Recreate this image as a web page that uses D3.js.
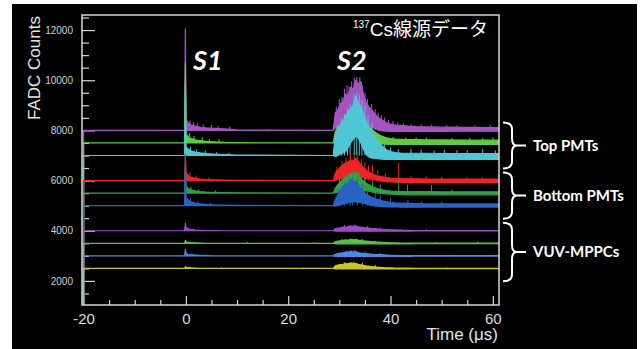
<!DOCTYPE html>
<html>
<head>
<meta charset="utf-8">
<script src="https://cdn.jsdelivr.net/npm/d3@7"></script>
<style>
  body { margin: 0; background: #fff; }
  svg { display: block; }
</style>
</head>
<body>
<svg></svg>
<script>
// time bins (µs), shared by every channel
const times = [-20, -0.25, -0.1, 0.05, 0.5, 1, 1.8, 2.8, 4, 5.5, 7.5, 10, 28.8,
  29.2, 29.7, 30.2, 30.7, 31.2, 31.7, 32.2, 32.7, 33.2, 33.7, 34.2, 34.7, 35.2, 35.7,
  36.2, 36.7, 37.2, 37.8, 38.4, 39.2, 40, 41, 42, 43.5, 45, 47, 50, 55, 61.2];

// channel baselines (FADC counts, offset for display)
const baselines = [8000, 7500, 7000, 6000, 5500, 5000, 4000, 3500, 3000, 2500];

// upper / lower envelope of each waveform
const topPurpleHi = [8000, 8000, 12050, 8420, 8300, 8220, 8170, 8130, 8100, 8080, 8060, 8020, 8000,
  8700, 8820, 9060, 9180, 9450, 9400, 9720, 9650, 10000, 9850, 9950, 9450, 9150, 8950, 8850,
  8720, 8600, 8480, 8400, 8300, 8250, 8210, 8200, 8170, 8150, 8140, 8130, 8120, 8110];
const topPurpleLo = [8000, 8000, 8000, 8000, 8000, 8000, 8000, 8000, 8000, 8000, 8000, 8000, 8000,
  8100, 8150, 8200, 8250, 8300, 8350, 8400, 8400, 8400, 8380, 8350, 8300, 8250, 8200, 8150,
  8100, 8050, 8000, 7980, 7970, 7960, 7960, 7960, 7960, 7960, 7960, 7960, 7970, 7970];

const topGreenHi = [7500, 7500, 10700, 7850, 7740, 7680, 7620, 7590, 7560, 7540, 7520, 7510, 7500,
  7950, 8100, 8250, 8350, 8480, 8560, 8750, 8800, 8900, 8850, 8750, 8550, 8350, 8200, 8080,
  7980, 7900, 7820, 7760, 7700, 7670, 7650, 7640, 7630, 7630, 7620, 7620, 7610, 7610];
const topGreenLo = [7500, 7500, 7500, 7500, 7500, 7500, 7500, 7500, 7500, 7500, 7500, 7500, 7500,
  7550, 7600, 7650, 7700, 7750, 7800, 7850, 7850, 7850, 7800, 7750, 7700, 7650, 7600, 7560,
  7520, 7500, 7480, 7460, 7450, 7440, 7440, 7440, 7440, 7440, 7440, 7440, 7440, 7440];

const topCyanHi = [7000, 7000, 9830, 7330, 7250, 7190, 7140, 7110, 7080, 7060, 7040, 7020, 7000,
  7800, 8050, 8230, 8380, 8520, 8760, 8850, 9000, 9350, 9100, 8950, 8650, 8400, 8150, 7950,
  7800, 7640, 7500, 7380, 7230, 7160, 7120, 7100, 7090, 7090, 7090, 7080, 7080, 7080];
const topCyanLo = [7000, 7000, 7000, 7000, 7000, 7000, 7000, 7000, 7000, 7000, 7000, 7000, 7000,
  6950, 7000, 7050, 7100, 7150, 7300, 7500, 7650, 7760, 7700, 7500, 7250, 7050, 6950, 6900,
  6880, 6870, 6860, 6850, 6840, 6840, 6840, 6840, 6840, 6840, 6840, 6840, 6840, 6840];

const botRedHi = [6000, 6000, 7000, 6320, 6200, 6130, 6090, 6060, 6040, 6030, 6020, 6010, 6000,
  6280, 6420, 6540, 6620, 6700, 6750, 6820, 6780, 6880, 6760, 6640, 6520, 6420, 6340, 6290,
  6240, 6200, 6170, 6150, 6120, 6100, 6090, 6080, 6070, 6070, 6060, 6060, 6060, 6060];
const botRedLo = [6000, 6000, 6000, 6000, 6000, 6000, 6000, 6000, 6000, 6000, 6000, 6000, 6000,
  6020, 6050, 6080, 6100, 6120, 6150, 6170, 6180, 6180, 6170, 6150, 6120, 6100, 6080, 6060,
  6040, 6020, 6000, 5980, 5960, 5950, 5940, 5930, 5920, 5920, 5920, 5920, 5920, 5920];

const botGreenHi = [5500, 5500, 6500, 5780, 5680, 5630, 5590, 5560, 5540, 5530, 5520, 5510, 5500,
  5700, 5830, 5960, 6060, 6140, 6190, 6270, 6250, 6320, 6230, 6100, 5980, 5900, 5840, 5780,
  5740, 5700, 5660, 5630, 5600, 5580, 5570, 5560, 5560, 5560, 5560, 5550, 5550, 5550];
const botGreenLo = [5500, 5500, 5500, 5500, 5500, 5500, 5500, 5500, 5500, 5500, 5500, 5500, 5500,
  5520, 5550, 5580, 5600, 5620, 5640, 5660, 5670, 5670, 5660, 5640, 5620, 5600, 5580, 5560,
  5540, 5520, 5500, 5480, 5470, 5460, 5450, 5440, 5430, 5430, 5430, 5430, 5430, 5430];

const botBlueHi = [5000, 5000, 7050, 5330, 5220, 5150, 5100, 5070, 5050, 5030, 5020, 5010, 5000,
  5250, 5430, 5630, 5760, 5830, 5900, 6030, 5940, 5980, 5830, 5700, 5560, 5470, 5400, 5350,
  5300, 5260, 5230, 5190, 5160, 5130, 5110, 5100, 5090, 5080, 5070, 5070, 5070, 5070];
const botBlueLo = [5000, 5000, 5000, 5000, 5000, 5000, 5000, 5000, 5000, 5000, 5000, 5000, 5000,
  4980, 5000, 5030, 5060, 5090, 5110, 5130, 5150, 5150, 5140, 5120, 5100, 5070, 5040, 5020,
  5000, 4980, 4970, 4960, 4950, 4950, 4950, 4940, 4940, 4940, 4940, 4940, 4940, 4940];

const vuvPurpleHi = [4000, 4000, 4310, 4120, 4080, 4050, 4030, 4020, 4010, 4010, 4000, 4000, 4000,
  4080, 4110, 4120, 4150, 4140, 4170, 4200, 4180, 4200, 4160, 4150, 4130, 4120, 4110, 4100,
  4090, 4080, 4070, 4060, 4050, 4040, 4040, 4030, 4020, 4010, 4010, 4010, 4010, 4010];
const vuvPurpleLo = [4000, 4000, 4000, 4000, 4000, 4000, 4000, 4000, 4000, 4000, 4000, 4000, 4000,
  3980, 3980, 3980, 3980, 3980, 3980, 3980, 3980, 3980, 3980, 3980, 3980, 3980, 3980, 3980,
  3980, 3980, 3980, 3980, 3980, 3980, 3980, 3980, 3980, 3990, 3990, 3990, 3990, 3990];

const vuvGreenHi = [3500, 3500, 3620, 3560, 3540, 3530, 3520, 3510, 3500, 3500, 3500, 3500, 3500,
  3560, 3590, 3600, 3620, 3640, 3620, 3660, 3640, 3650, 3630, 3620, 3600, 3590, 3580, 3570,
  3560, 3550, 3550, 3540, 3530, 3520, 3520, 3510, 3510, 3510, 3510, 3510, 3510, 3510];
const vuvGreenLo = [3500, 3500, 3500, 3500, 3500, 3500, 3500, 3500, 3500, 3500, 3500, 3500, 3500,
  3480, 3480, 3480, 3480, 3480, 3480, 3480, 3480, 3480, 3480, 3480, 3480, 3480, 3480, 3480,
  3480, 3480, 3480, 3480, 3480, 3480, 3480, 3480, 3480, 3490, 3490, 3490, 3490, 3490];

const vuvBlueHi = [3000, 3000, 3260, 3080, 3050, 3040, 3030, 3020, 3010, 3000, 3000, 3000, 3000,
  3060, 3090, 3110, 3120, 3150, 3130, 3190, 3150, 3170, 3130, 3110, 3100, 3090, 3080, 3070,
  3060, 3050, 3050, 3040, 3030, 3020, 3020, 3010, 3010, 3010, 3010, 3010, 3010, 3010];
const vuvBlueLo = [3000, 3000, 3000, 3000, 3000, 3000, 3000, 3000, 3000, 3000, 3000, 3000, 3000,
  2980, 2980, 2980, 2980, 2980, 2980, 2980, 2980, 2980, 2980, 2980, 2980, 2980, 2980, 2980,
  2980, 2980, 2980, 2980, 2980, 2980, 2980, 2980, 2980, 2990, 2990, 2990, 2990, 2990];

const vuvYellowHi = [2500, 2500, 2570, 2540, 2530, 2520, 2510, 2500, 2500, 2500, 2500, 2500, 2500,
  2600, 2630, 2650, 2660, 2690, 2680, 2720, 2690, 2700, 2660, 2640, 2620, 2600, 2590, 2570,
  2560, 2550, 2540, 2530, 2520, 2520, 2510, 2510, 2510, 2500, 2500, 2500, 2500, 2500];
const vuvYellowLo = [2500, 2500, 2500, 2500, 2500, 2500, 2500, 2500, 2500, 2500, 2500, 2500, 2500,
  2480, 2480, 2480, 2480, 2480, 2480, 2480, 2480, 2480, 2480, 2480, 2480, 2480, 2480, 2480,
  2480, 2480, 2480, 2480, 2480, 2480, 2480, 2480, 2480, 2490, 2490, 2490, 2490, 2490];

// single-bin spikes on top of the envelopes [time, counts]
const topPurpleSpikes = [[0.8, 8400], [1.5, 8330], [2.2, 8300], [3.4, 8240], [5, 8220], [6.3, 8180], [8.6, 8160], [16, 8050],
  [29.4, 8950], [30.0, 9250], [30.5, 9350], [31.0, 9650], [31.5, 9800], [31.9, 9750], [32.4, 9950], [32.9, 10100],
  [33.4, 10130], [34.0, 10120], [34.5, 9800], [35.0, 9500], [35.5, 9250], [36.3, 9050], [37.0, 8850], [37.6, 8700],
  [38.2, 8600], [38.8, 8520], [39.6, 8420], [40.5, 8380], [41.4, 8330], [42.5, 8290], [44, 8260], [46, 8240],
  [48, 8230], [51, 8210], [53, 8200], [56.5, 8200], [59.5, 8220]];
const topGreenSpikes = [[0.7, 7880], [1.6, 7780], [3.2, 7730], [4.6, 7660], [6.5, 7640],
  [40.5, 7740], [43, 7720], [45, 7710], [47, 7710], [52, 7690], [55.5, 7700], [58, 7690], [60, 7720]];
const topCyanSpikes = [[0.9, 7340], [2.1, 7250], [3.8, 7200], [6, 7130], [8.4, 7100],
  [29.6, 8200], [30.4, 8450], [31.0, 8650], [31.6, 8900], [32.1, 9050], [32.9, 9450], [33.4, 9500], [33.9, 9430],
  [34.4, 9200], [35.0, 9000], [35.6, 8600], [36.4, 8300], [37.1, 7900], [37.9, 7700], [38.8, 7450], [40, 7320],
  [41.5, 7260], [44, 7260], [46, 7230], [48.5, 7200], [50.5, 7230], [53, 7220], [55, 7200], [58, 7260], [60.5, 7200]];
const botRedSpikes = [[0.8, 6330], [2, 6200], [4.5, 6120],
  [29.5, 6550], [30.5, 6780], [31.3, 6900], [32.2, 7050], [33.0, 6980], [33.5, 7000], [34.3, 6850], [35.0, 6750],
  [35.7, 6600], [36.5, 6600], [37.5, 6400], [39, 6300], [41.6, 6720], [44, 6180], [47, 6160], [50, 6150], [55, 6130], [58, 6140]];
const botGreenSpikes = [[1, 5760], [2.5, 5650], [5.8, 5600],
  [30, 6100], [31.3, 6300], [32.5, 6400], [33.8, 6350], [35, 6150], [36.5, 6000], [38, 5850], [41.6, 6030],
  [43.3, 5840], [48, 5830], [52, 5650]];
const botBlueSpikes = [[0.9, 5300], [2.4, 5180], [4.8, 5110],
  [29.8, 5650], [31, 5900], [32.1, 6100], [32.6, 6150], [33.5, 6050], [34.5, 5850], [35.5, 5650], [37, 5500],
  [38, 5420], [40, 5300], [43.4, 5230], [46, 5180], [50, 5160]];
const vuvPurpleSpikes = [[1.5, 4090], [31, 4230], [33, 4240], [35.5, 4190], [38, 4130], [42, 4070], [47, 4060]];
const vuvGreenSpikes = [[12, 3550], [25, 3540], [30.5, 3670], [32.5, 3690], [34.5, 3670], [37, 3600], [49, 3550], [57, 3560]];
const vuvBlueSpikes = [[1.2, 3090], [4, 3060], [31.5, 3210], [33, 3230], [35, 3170], [38, 3110], [53, 3040]];
const vuvYellowSpikes = [[7, 2540], [23, 2530], [31, 2740], [32.8, 2760], [34.5, 2720], [37, 2640], [51, 2530]];

const colors = ['#a653c2', '#5fcc3f', '#4fc6d4', '#ee2424', '#30a046', '#2a62c2',
  '#9a4cc4', '#5cc243', '#4a8ae0', '#c9c624'];

const groupLabels = ['Top PMTs', 'Bottom PMTs', 'VUV-MPPCs'];
const groupMembers = [[0, 1, 2], [3, 4, 5], [6, 7, 8, 9]];

const yMajorTicks = [2000, 4000, 6000, 8000, 10000, 12000];
const yMinorTicks = [1500, 2500, 3000, 3500, 4500, 5000, 5500, 6500, 7000, 7500, 8500, 9000, 9500, 10500, 11000, 11500, 12500];
const xMajorTicks = [-20, 0, 20, 40, 60];
const xMinorTicks = [-15, -10, -5, 5, 10, 15, 25, 30, 35, 45, 50, 55];

const series = [
  {hi: topPurpleHi, lo: topPurpleLo, spikes: topPurpleSpikes},
  {hi: topGreenHi, lo: topGreenLo, spikes: topGreenSpikes},
  {hi: topCyanHi, lo: topCyanLo, spikes: topCyanSpikes},
  {hi: botRedHi, lo: botRedLo, spikes: botRedSpikes},
  {hi: botGreenHi, lo: botGreenLo, spikes: botGreenSpikes},
  {hi: botBlueHi, lo: botBlueLo, spikes: botBlueSpikes},
  {hi: vuvPurpleHi, lo: vuvPurpleLo, spikes: vuvPurpleSpikes},
  {hi: vuvGreenHi, lo: vuvGreenLo, spikes: vuvGreenSpikes},
  {hi: vuvBlueHi, lo: vuvBlueLo, spikes: vuvBlueSpikes},
  {hi: vuvYellowHi, lo: vuvYellowLo, spikes: vuvYellowSpikes}
];
series.forEach((s, i) => { s.base = baselines[i]; s.color = colors[i]; });

const size = {w: 641, h: 349};
const plot = {l: 82, t: 15, r: 499, b: 305};
const svg = d3.select('svg').attr('width', size.w).attr('height', size.h);

// black slide background
svg.append('rect')
  .attr('x', 12).attr('y', 4)
  .attr('width', 625).attr('height', 345)
  .attr('fill', '#000');

const x = d3.scaleLinear().domain([-20.3, 61.2]).range([plot.l, plot.r]);
const y = d3.scaleLinear().domain([1040, 12600]).range([plot.b, plot.t]);

svg.append('clipPath').attr('id', 'clip')
  .append('rect')
  .attr('x', plot.l).attr('y', plot.t)
  .attr('width', plot.r - plot.l).attr('height', plot.b - plot.t);

//Axes (ticks point inward like ROOT)
const axisColor = '#d6d6d6';
const yMajor = svg.append('g').attr('transform', `translate(${plot.l},0)`)
  .call(d3.axisLeft(y).tickValues(yMajorTicks).tickSize(-13).tickPadding(9).tickFormat(d => String(d)));
const yMinor = svg.append('g').attr('transform', `translate(${plot.l},0)`)
  .call(d3.axisLeft(y).tickValues(yMinorTicks).tickSize(-7).tickFormat(''));
const xMajor = svg.append('g').attr('transform', `translate(0,${plot.b})`)
  .call(d3.axisBottom(x).tickValues(xMajorTicks).tickSize(-9).tickPadding(8).tickFormat(d => String(d)));
const xMinor = svg.append('g').attr('transform', `translate(0,${plot.b})`)
  .call(d3.axisBottom(x).tickValues(xMinorTicks).tickSize(-5).tickFormat(''));

[yMajor, yMinor, xMajor, xMinor].forEach(g => {
  g.select('.domain').remove();
  g.selectAll('line').attr('stroke', axisColor).attr('stroke-width', 1.2);
});
yMajor.selectAll('text')
  .attr('fill', '#d0d0d0')
  .style('font', '10px "Liberation Sans", Arial, sans-serif');
xMajor.selectAll('text')
  .attr('fill', '#dcdcdc')
  .style('font', '15px "Liberation Sans", Arial, sans-serif');

//Waveforms
const traces = svg.append('g').attr('clip-path', 'url(#clip)');
const area = d3.area()
  .x(d => x(d.t))
  .y0(d => y(d.lo))
  .y1(d => y(d.hi));

series.forEach(s => {
  const rows = times.map((t, i) => ({t: t, hi: s.hi[i], lo: s.lo[i]}));
  const g = traces.append('g');

  // histogram starts from the bottom of the frame
  g.append('line')
    .attr('x1', x(times[0])).attr('x2', x(times[0]))
    .attr('y1', y(y.domain()[0])).attr('y2', y(s.base))
    .attr('stroke', s.color).attr('stroke-width', 1.3);

  g.append('path')
    .datum(rows)
    .attr('d', area)
    .attr('fill', s.color)
    .attr('stroke', s.color)
    .attr('stroke-width', 1.2)
    .attr('stroke-linejoin', 'round');

  g.selectAll('.spike')
    .data(s.spikes)
    .enter()
    .append('line')
    .attr('x1', d => x(d[0])).attr('x2', d => x(d[0]))
    .attr('y1', y(s.base)).attr('y2', d => y(d[1]))
    .attr('stroke', s.color).attr('stroke-width', 1);
});

// frame
svg.append('rect')
  .attr('x', plot.l).attr('y', plot.t)
  .attr('width', plot.r - plot.l).attr('height', plot.b - plot.t)
  .attr('fill', 'none')
  .attr('stroke', axisColor)
  .attr('stroke-width', 1.5);

//Axis titles
svg.append('text')
  .attr('transform', 'translate(40,68) rotate(-90)')
  .attr('text-anchor', 'middle')
  .attr('fill', '#e4e4e4')
  .style('font', '17px "Liberation Sans", Arial, sans-serif')
  .text('FADC Counts');

svg.append('text')
  .attr('x', 498).attr('y', 340)
  .attr('text-anchor', 'end')
  .attr('fill', '#e4e4e4')
  .style('font', '17px "Liberation Sans", Arial, sans-serif')
  .text('Time (μs)');

// title
const title = svg.append('text')
  .attr('x', 353).attr('y', 36)
  .attr('fill', '#fff');
title.append('tspan')
  .attr('dy', -8)
  .style('font', '10px "Liberation Sans", Arial, sans-serif')
  .text('137');
title.append('tspan')
  .attr('dy', 8)
  .style('font', '19px "Liberation Sans", Arial, sans-serif')
  .text('Cs');
title.append('tspan')
  .style('font', '19px "Noto Sans CJK JP", sans-serif')
  .text('線源データ');

// S1 / S2 markers
[['S1', 193], ['S2', 337]].forEach(d => {
  svg.append('text')
    .attr('x', d[1]).attr('y', 70)
    .attr('fill', '#fff')
    .style('font', 'italic bold 27px Lato, "Liberation Sans", sans-serif')
    .text(d[0]);
});

//Group braces
const bx = 503;
groupLabels.forEach((label, i) => {
  const bases = groupMembers[i].map(k => baselines[k]);
  const top = y(d3.max(bases)) - 8;
  const bot = y(d3.min(bases)) + 13;
  const mid = (top + bot) / 2;
  const w = 9, r = 7;
  const path = `M${bx},${top} Q${bx + w},${top} ${bx + w},${top + r} L${bx + w},${mid - r} ` +
    `Q${bx + w},${mid} ${bx + w + 5},${mid} L${bx + w + 14},${mid} ` +
    `M${bx + w + 5},${mid} Q${bx + w},${mid} ${bx + w},${mid + r} L${bx + w},${bot - r} ` +
    `Q${bx + w},${bot} ${bx},${bot}`;
  svg.append('path')
    .attr('d', path)
    .attr('fill', 'none')
    .attr('stroke', '#fff')
    .attr('stroke-width', 2);
  svg.append('text')
    .attr('x', 533).attr('y', mid)
    .attr('dy', '0.35em')
    .attr('fill', '#fff')
    .style('font', 'bold 15px Lato, "Liberation Sans", sans-serif')
    .text(label);
});
</script>
</body>
</html>
